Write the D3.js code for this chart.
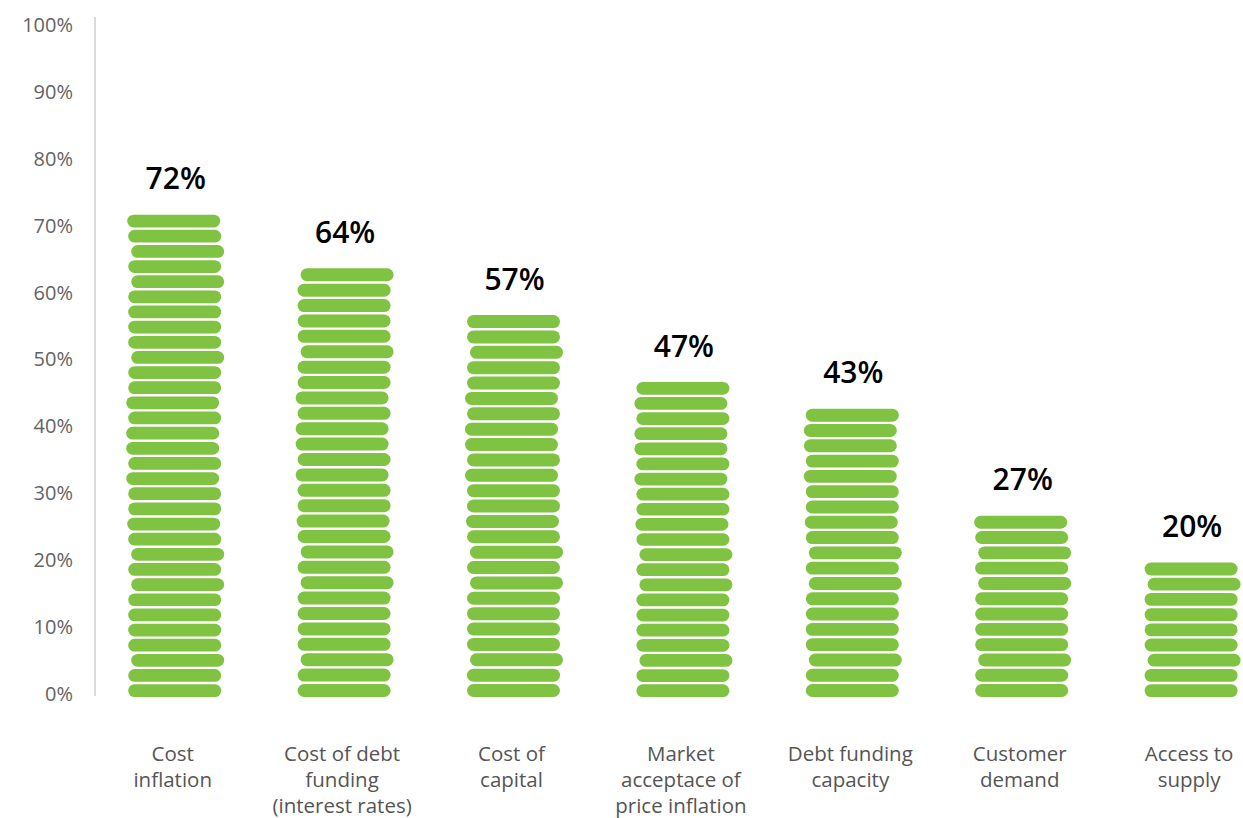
<!DOCTYPE html>
<html>
<head>
<meta charset="utf-8">
<script src="https://cdn.jsdelivr.net/npm/d3@7"></script>
<style>
  html, body { margin: 0; padding: 0; background: #ffffff; }
  svg { display: block; font-family: "Open Sans", "Noto Sans", sans-serif; }
</style>
</head>
<body>
<svg id="chart" width="1243" height="818"></svg>
<script>
// Share of respondents naming each factor
const categories = [
  ["Cost", "inflation"],
  ["Cost of debt", "funding", "(interest rates)"],
  ["Cost of", "capital"],
  ["Market", "acceptace of", "price inflation"],
  ["Debt funding", "capacity"],
  ["Customer", "demand"],
  ["Access to", "supply"]
];
const values = [72, 64, 57, 47, 43, 27, 20];
const tickValues = [0, 10, 20, 30, 40, 50, 60, 70, 80, 90, 100];

// Horizontal nudges of the stacked coins, bottom to top (px)
const coinNudge = [0,0,3,0,0,0,0,3,0,3,0,-1,0,0,-2,0,-2,-2,0,-2,0,0,3,0,0,0,0,3,0,3,0,-1,0];

const green = "#80c242";
const coinStep = 2.25;   // percentage points per coin
const coinW = 93, coinGap = 2.4;

const svg = d3.select("#chart");

const x = d3.scaleBand()
  .domain(d3.range(categories.length))
  .range([90, 90 + 169.4 * categories.length])
  .paddingInner(0).paddingOuter(0);

const y = d3.scaleLinear().domain([0, 100]).range([694, 25]);

// Y axis
const yAxis = d3.axisLeft(y)
  .tickValues(tickValues)
  .tickSize(0)
  .tickPadding(22)
  .tickFormat(d => d + "%");

const gy = svg.append("g").attr("transform", "translate(95,0)").call(yAxis);
gy.select(".domain").remove();
gy.selectAll("text")
  .attr("fill", "#636363")
  .style("font-size", "20px")
  .style("font-family", "'Open Sans', sans-serif");

svg.append("line")
  .attr("x1", 95).attr("x2", 95)
  .attr("y1", y(100) - 8).attr("y2", y(0) + 2)
  .attr("stroke", "#cfcfcf").attr("stroke-width", 1.5);

// Coin stacks
const cols = svg.append("g").selectAll("g.col")
  .data(values)
  .join("g")
  .attr("class", "col")
  .attr("transform", (d, i) => `translate(${x(i) + x.bandwidth() / 2},0)`);

cols.each(function(v) {
  const n = Math.round(v / coinStep);
  const bottom = y(0) + 3;
  const top = y(v);
  const pitch = (bottom - top) / n;
  const h = pitch - coinGap;
  d3.select(this).selectAll("rect")
    .data(d3.range(n))
    .join("rect")
    .attr("x", k => -coinW / 2 + coinNudge[k % coinNudge.length])
    .attr("y", k => bottom - (k + 1) * pitch + coinGap)
    .attr("width", coinW)
    .attr("height", h)
    .attr("rx", h / 2)
    .attr("ry", h / 2)
    .attr("fill", green);
});

// Value labels
cols.append("text")
  .attr("x", 1)
  .attr("y", d => y(d) - 23)
  .attr("text-anchor", "middle")
  .attr("fill", "#000")
  .style("font-size", "30px")
  .style("font-weight", 600)
  .text(d => d + "%");

// Category labels, one text element per line
const lineH = 26;
const catG = svg.append("g").selectAll("g.cat")
  .data(categories)
  .join("g")
  .attr("class", "cat")
  .attr("transform", (d, i) => `translate(${x(i) + x.bandwidth() / 2 - 2},761)`);

catG.selectAll("text")
  .data(d => d)
  .join("text")
  .attr("y", (d, k) => k * lineH)
  .attr("text-anchor", "middle")
  .attr("fill", "#555555")
  .style("font-size", "20.5px")
  .text(d => d);
</script>
</body>
</html>
